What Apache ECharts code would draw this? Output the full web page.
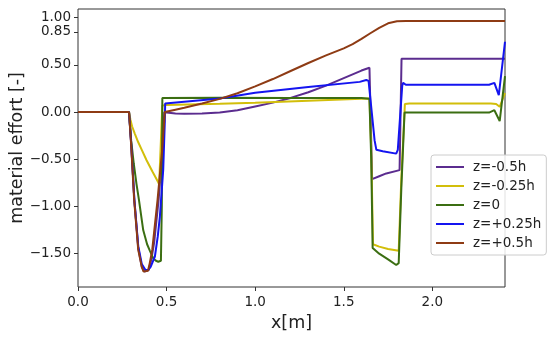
<!DOCTYPE html>
<html>
<head>
<meta charset="utf-8">
<script src="https://cdn.jsdelivr.net/npm/echarts@6/dist/echarts.min.js"></script>
<style>html,body{margin:0;padding:0;background:#fff}#c{width:550px;height:338px}</style>
</head>
<body>
<div id="c"></div>
<script>
const seriesNames = ["z=-0.5h", "z=-0.25h", "z=0", "z=+0.25h", "z=+0.5h"];
const xTicks = [0, 0.5, 1.0, 1.5, 2.0];
const yTicks = [-1.5, -1.0, -0.5, 0, 0.5, 0.85, 1.0];

const zNeg05 = [[0,0],[0.288,0],[0.30,-0.33],[0.318,-0.93],[0.34,-1.44],[0.36,-1.64],[0.375,-1.69],[0.386,-1.705],[0.40,-1.67],[0.415,-1.55],[0.43,-1.38],[0.455,-0.93],[0.475,-0.45],[0.487,0.0],[0.5,-0.005],[0.55,-0.015],[0.6,-0.018],[0.7,-0.015],[0.8,-0.005],[0.9,0.02],[1.0,0.06],[1.1,0.10],[1.2,0.15],[1.3,0.21],[1.4,0.28],[1.5,0.36],[1.6,0.44],[1.645,0.47],[1.66,-0.71],[1.70,-0.68],[1.74,-0.65],[1.815,-0.615],[1.826,0.565],[2.41,0.565]];
const zNeg025 = [[0,0],[0.288,0],[0.296,-0.08],[0.305,-0.15],[0.321,-0.23],[0.34,-0.32],[0.36,-0.40],[0.387,-0.51],[0.42,-0.63],[0.452,-0.74],[0.458,-0.77],[0.468,-0.3],[0.476,0.07],[0.5,0.075],[0.8,0.088],[1.0,0.10],[1.3,0.12],[1.6,0.14],[1.645,0.145],[1.655,-0.4],[1.665,-1.40],[1.70,-1.425],[1.75,-1.45],[1.81,-1.47],[1.825,-0.7],[1.845,0.085],[1.87,0.09],[2.33,0.09],[2.36,0.085],[2.38,0.056],[2.41,0.2]];
const zZero = [[0,0],[0.288,0],[0.30,-0.3],[0.315,-0.55],[0.33,-0.76],[0.344,-0.93],[0.368,-1.25],[0.39,-1.40],[0.406,-1.47],[0.425,-1.55],[0.44,-1.575],[0.453,-1.585],[0.468,-1.575],[0.473,-1.0],[0.476,0.15],[0.8,0.152],[1.2,0.15],[1.6,0.148],[1.645,0.14],[1.655,-0.5],[1.663,-1.44],[1.70,-1.50],[1.75,-1.56],[1.796,-1.62],[1.81,-1.60],[1.825,-0.8],[1.843,-0.005],[2.32,-0.005],[2.35,0.02],[2.38,-0.095],[2.41,0.38]];
const zPos025 = [[0,0],[0.288,0],[0.30,-0.33],[0.318,-0.93],[0.34,-1.42],[0.36,-1.61],[0.38,-1.67],[0.395,-1.675],[0.41,-1.64],[0.425,-1.57],[0.434,-1.53],[0.45,-1.32],[0.462,-1.11],[0.481,-0.61],[0.49,-0.1],[0.492,0.09],[0.5,0.085],[0.8,0.145],[1.0,0.205],[1.3,0.265],[1.59,0.32],[1.627,0.34],[1.64,0.33],[1.645,0.31],[1.674,-0.30],[1.684,-0.40],[1.72,-0.415],[1.796,-0.44],[1.805,-0.40],[1.81,-0.41],[1.83,0.28],[1.835,0.31],[1.85,0.29],[2.32,0.29],[2.35,0.31],[2.375,0.18],[2.41,0.745]];
const zPos05 = [[0,0],[0.288,0],[0.30,-0.35],[0.317,-0.93],[0.34,-1.46],[0.36,-1.64],[0.37,-1.69],[0.381,-1.71],[0.395,-1.68],[0.405,-1.60],[0.419,-1.46],[0.449,-0.93],[0.475,-0.40],[0.49,0.0],[0.55,0.025],[0.6,0.045],[0.7,0.09],[0.8,0.14],[0.9,0.2],[1.0,0.272],[1.1,0.35],[1.2,0.435],[1.3,0.52],[1.4,0.60],[1.5,0.675],[1.55,0.72],[1.6,0.775],[1.65,0.835],[1.7,0.893],[1.75,0.94],[1.8,0.962],[1.85,0.965],[2.41,0.965]];

const colors = ["#5B2C8F", "#D2BE0A", "#3B6E12", "#1414F0", "#8E3B14"];
const allData = [zNeg05, zNeg025, zZero, zPos025, zPos05];

const chart = echarts.init(document.getElementById('c'), null, {renderer: 'canvas'});
const font = 'DejaVu Sans';
chart.setOption({
  animation: false,
  backgroundColor: '#fff',
  grid: {left: 78, right: 45, top: 9, bottom: 51, containLabel: false, outerBoundsMode: 'none',
    show: true, borderColor: '#333', borderWidth: 1, backgroundColor: 'transparent'},
  legend: {
    orient: 'vertical', left: 431, top: 155,
    data: seriesNames,
    icon: 'rect', itemWidth: 28, itemHeight: 2, itemGap: 5,
    padding: [5, 5, 5, 5],
    backgroundColor: 'rgba(255,255,255,0.85)', borderColor: '#ccc', borderWidth: 1, borderRadius: 3,
    textStyle: {fontFamily: font, fontSize: 13.5, color: '#222', padding: [0, 0, 0, 4]}
  },
  xAxis: {
    type: 'value', min: 0, max: 2.41,
    name: 'x[m]', nameLocation: 'middle', nameGap: 27, nameMoveOverlap: false,
    nameTextStyle: {fontFamily: font, fontSize: 17.5, color: '#222'},
    axisLine: {show: false, onZero: false},
    axisTick: {show: true, customValues: xTicks, length: 4, lineStyle: {color: '#333'}},
    axisLabel: {customValues: xTicks, fontFamily: font, fontSize: 13.5, color: '#222', margin: 8, formatter: v => v.toFixed(1)},
    splitLine: {show: false}
  },
  yAxis: {
    type: 'value', min: -1.853, max: 1.092,
    name: 'material effort [-]', nameLocation: 'middle', nameGap: 52, nameMoveOverlap: false,
    nameTextStyle: {fontFamily: font, fontSize: 17.5, color: '#222'},
    axisLine: {show: false, onZero: false},
    axisTick: {show: true, customValues: yTicks, length: 4, lineStyle: {color: '#333'}},
    axisLabel: {customValues: yTicks, fontFamily: font, fontSize: 13.5, color: '#222', margin: 7,
      formatter: v => (v < 0 ? '\u2212' : '') + Math.abs(v).toFixed(2)},
    splitLine: {show: false}
  },
  series: allData.map((d, i) => ({
    name: seriesNames[i], type: 'line', data: d, showSymbol: false, symbol: 'none',
    color: colors[i], lineStyle: {width: 2, color: colors[i]}, z: 2 + i
  }))
});
</script>
</body>
</html>
